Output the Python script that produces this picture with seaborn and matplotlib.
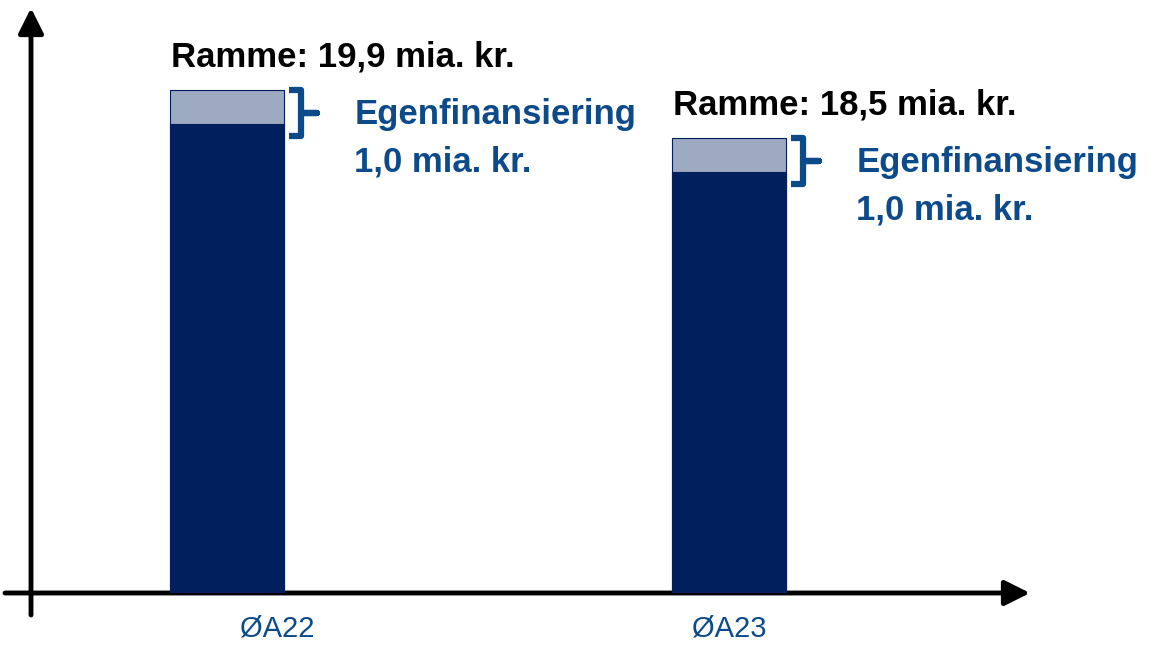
import numpy as np
import pandas as pd
import matplotlib.pyplot as plt
import seaborn as sns

# Data
years = ["ØA22", "ØA23"]
ramme = [19.9, 18.5]          # total frame, bn kr.
egen = [1.0, 1.0]             # self-financing part, bn kr.
ramme_labels = ["Ramme: 19,9 mia. kr.", "Ramme: 18,5 mia. kr."]
egen_title = "Egenfinansiering"
egen_labels = ["1,0 mia. kr.", "1,0 mia. kr."]

navy = "#001F5C"
light = "#9EA9C2"
blue = "#0D4A8A"

df = pd.DataFrame({"year": years, "ramme": ramme, "egen": egen})
df["base"] = df["ramme"] - df["egen"]

sns.set_theme(style="white")
plt.rcParams["font.family"] = ["Liberation Sans", "DejaVu Sans"]

fig = plt.figure(figsize=(11.6, 6.48), dpi=100)
W, H = 1160, 648
ax = fig.add_axes([31 / W, 55 / H, (1030 - 31) / W, (640 - 55) / H])

bw = 0.228
sns.barplot(data=df, x="year", y="ramme", color=light, width=bw, ax=ax,
            edgecolor=navy, linewidth=0.8, saturation=1)
sns.barplot(data=df, x="year", y="base", color=navy, width=bw, ax=ax,
            edgecolor=navy, linewidth=0.8, saturation=1)

ymin = 5.23
ax.set_xlim(-0.39, -0.39 + 999 / 502)
ax.set_ylim(ymin, ymin + 585 / 34.3)
ax.set_xlabel("")
ax.set_ylabel("")
ax.set_yticks([])
ax.set_xticks([])
for s in ax.spines.values():
    s.set_visible(False)
ax.patch.set_alpha(0)

# category labels below axis
label_dx = [0.1, 0.0]
for i, lab in enumerate(years):
    ax.text(i + label_dx[i], ymin - 0.62, lab, ha="center", va="top",
            fontsize=21, color=blue,
            family=["Liberation Sans Narrow", "Liberation Sans", "DejaVu Sans"],
            clip_on=False)

# annotations
for i in range(len(years)):
    left = i - bw / 2
    right = i + bw / 2
    top = ramme[i]
    ax.text(left + 0.002, top + 0.68, ramme_labels[i], ha="left", va="baseline",
            fontsize=25, fontweight="bold", color="black")
    ax.text(right + 0.14, top - 1.0, egen_title, ha="left", va="baseline",
            fontsize=25, fontweight="bold", color=blue)
    ax.text(right + 0.14, top - 2.37, egen_labels[i], ha="left", va="baseline",
            fontsize=25, fontweight="bold", color=blue)
    # brace
    x0 = right + 0.01
    x1 = right + 0.034
    x2 = right + 0.066
    yt = top
    yb = top - egen[i] - 0.35
    ym = (yt + yb) / 2
    ax.plot([x0, x1, x1, x2, x1, x1, x0],
            [yt, yt, ym, ym, ym, yb, yb],
            color=blue, lw=4.5, solid_joinstyle="round", solid_capstyle="butt",
            clip_on=False)

# axis arrows
arrow = dict(arrowstyle="-|>,head_length=0.9,head_width=0.45", lw=3.5,
             color="black", shrinkA=0, shrinkB=0, mutation_scale=17)
ax.annotate("", xy=(31, 640), xytext=(31, 33), xycoords="figure pixels",
            textcoords="figure pixels", arrowprops=arrow, zorder=0.5,
            annotation_clip=False)
ax.annotate("", xy=(1030, 55), xytext=(5, 55), xycoords="figure pixels",
            textcoords="figure pixels", arrowprops=arrow, zorder=0.5,
            annotation_clip=False)

fig.savefig("out.png", dpi=100)
